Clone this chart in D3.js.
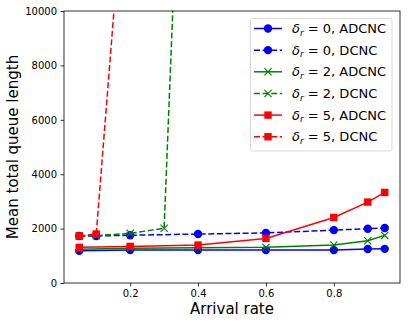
<!DOCTYPE html>
<html><head><meta charset="utf-8">
<script src="https://cdn.jsdelivr.net/npm/d3@7"></script>
<style>body{margin:0;background:#fff}svg{display:block}text{font-family:"DejaVu Sans",sans-serif}</style>
</head><body><svg id="c" width="409" height="325"></svg>
<script>
const xs = [0.05, 0.1, 0.2, 0.4, 0.6, 0.8, 0.9, 0.95];
const xsAd = [0.05, 0.2, 0.4, 0.6, 0.8, 0.9, 0.95];
const d0AD = [1185, 1210, 1210, 1210, 1215, 1250, 1255];
const d0DC = [1730, 1730, 1755, 1800, 1840, 1945, 1995, 2020];
const d2AD = [1240, 1275, 1300, 1310, 1395, 1555, 1750];
const xsD2 = [0.05, 0.1, 0.2, 0.3, 0.4];
const d2DC = [1730, 1740, 1825, 2010, 33400];
const d5AD = [1310, 1345, 1395, 1640, 2410, 2975, 3330];
const xsD5 = [0.05, 0.1, 0.2];
const d5DC = [1730, 1800, 17500];
const xTicks = [0.2, 0.4, 0.6, 0.8];
const yTicks = [0, 2000, 4000, 6000, 8000, 10000];

const series = [
  {delta: 0, name: "ADCNC", x: xsAd, y: d0AD, color: "#0000ff", dash: null, marker: "o"},
  {delta: 0, name: "DCNC", x: xs, y: d0DC, color: "#0000ff", dash: "6,2.6", marker: "o"},
  {delta: 2, name: "ADCNC", x: xsAd, y: d2AD, color: "#008000", dash: null, marker: "x"},
  {delta: 2, name: "DCNC", x: xsD2, y: d2DC, color: "#008000", dash: "6,2.6", marker: "x"},
  {delta: 5, name: "ADCNC", x: xsAd, y: d5AD, color: "#ff0000", dash: null, marker: "s"},
  {delta: 5, name: "DCNC", x: xsD5, y: d5DC, color: "#ff0000", dash: "6,2.6", marker: "s"}
];

const svg = d3.select("#c");
const L = 64, R = 400, T = 11, B = 283;
const x = d3.scaleLinear().domain([0.005, 0.995]).range([L, R]);
const y = d3.scaleLinear().domain([0, 10000]).range([B, T]);

svg.append("defs").append("clipPath").attr("id", "clip")
  .append("rect").attr("x", L).attr("y", T).attr("width", R - L).attr("height", B - T);

const xa = svg.append("g").attr("transform", `translate(0,${B})`)
  .call(d3.axisBottom(x).tickValues(xTicks).tickSize(3.5).tickPadding(3.5).tickFormat(d3.format(".1f")));
const ya = svg.append("g").attr("transform", `translate(${L},0)`)
  .call(d3.axisLeft(y).tickValues(yTicks).tickSize(3.5).tickPadding(3.5).tickFormat(d3.format("d")));
[xa, ya].forEach(g => {
  g.select(".domain").remove();
  g.selectAll("text").attr("font-size", 10).attr("fill", "#000").style("font-family", "DejaVu Sans");
  g.selectAll("line").attr("stroke", "#000").attr("stroke-width", 0.8);
});

function drawMarker(g, type, cx, cy, color) {
  if (type === "o") g.append("circle").attr("cx", cx).attr("cy", cy).attr("r", 4.2).attr("fill", color);
  else if (type === "s") g.append("rect").attr("x", cx - 3.7).attr("y", cy - 3.7).attr("width", 7.4).attr("height", 7.4).attr("fill", color);
  else {
    const s = 3.6;
    g.append("path").attr("d", `M${cx - s},${cy - s}L${cx + s},${cy + s}M${cx - s},${cy + s}L${cx + s},${cy - s}`)
      .attr("stroke", color).attr("stroke-width", 1.1).attr("fill", "none");
  }
}

const plot = svg.append("g").attr("clip-path", "url(#clip)");
const line = d3.line();
series.forEach(s => {
  const pts = s.x.map((v, i) => [x(v), y(s.y[i])]);
  const g = plot.append("g");
  g.append("path").attr("d", line(pts)).attr("fill", "none").attr("stroke", s.color)
    .attr("stroke-width", 1.5).attr("stroke-dasharray", s.dash);
  pts.forEach(p => drawMarker(g, s.marker, p[0], p[1], s.color));
});

svg.append("rect").attr("x", L).attr("y", T).attr("width", R - L).attr("height", B - T)
  .attr("fill", "none").attr("stroke", "#000").attr("stroke-width", 0.8);

// legend
const lg = svg.append("g");
lg.append("rect").attr("x", 250.5).attr("y", 18.5).attr("width", 141.5).attr("height", 132.5).attr("rx", 2)
  .attr("fill", "#fff").attr("fill-opacity", 0.8).attr("stroke", "#d0d0d0").attr("stroke-width", 0.8);
series.forEach((s, i) => {
  const cy = 28.5 + i * 21.65;
  lg.append("line").attr("x1", 254).attr("x2", 282).attr("y1", cy).attr("y2", cy)
    .attr("stroke", s.color).attr("stroke-width", 1.5).attr("stroke-dasharray", s.dash);
  drawMarker(lg, s.marker, 268, cy, s.color);
  const t = lg.append("text").attr("x", 292).attr("y", cy + 4.6).attr("font-size", 13).attr("fill", "#000");
  t.append("tspan").attr("font-style", "italic").text("δ");
  t.append("tspan").attr("font-style", "italic").attr("font-size", 9).attr("dy", 2.5).text("r");
  t.append("tspan").attr("dy", -2.5).text(` = ${s.delta}, ${s.name}`);
});

svg.append("text").attr("x", (L + R) / 2).attr("y", 314).attr("text-anchor", "middle")
  .attr("font-size", 15).text("Arrival rate");
svg.append("text").attr("transform", `translate(18,${(T + B) / 2}) rotate(-90)`).attr("text-anchor", "middle")
  .attr("font-size", 15).text("Mean total queue length");
</script></body></html>
